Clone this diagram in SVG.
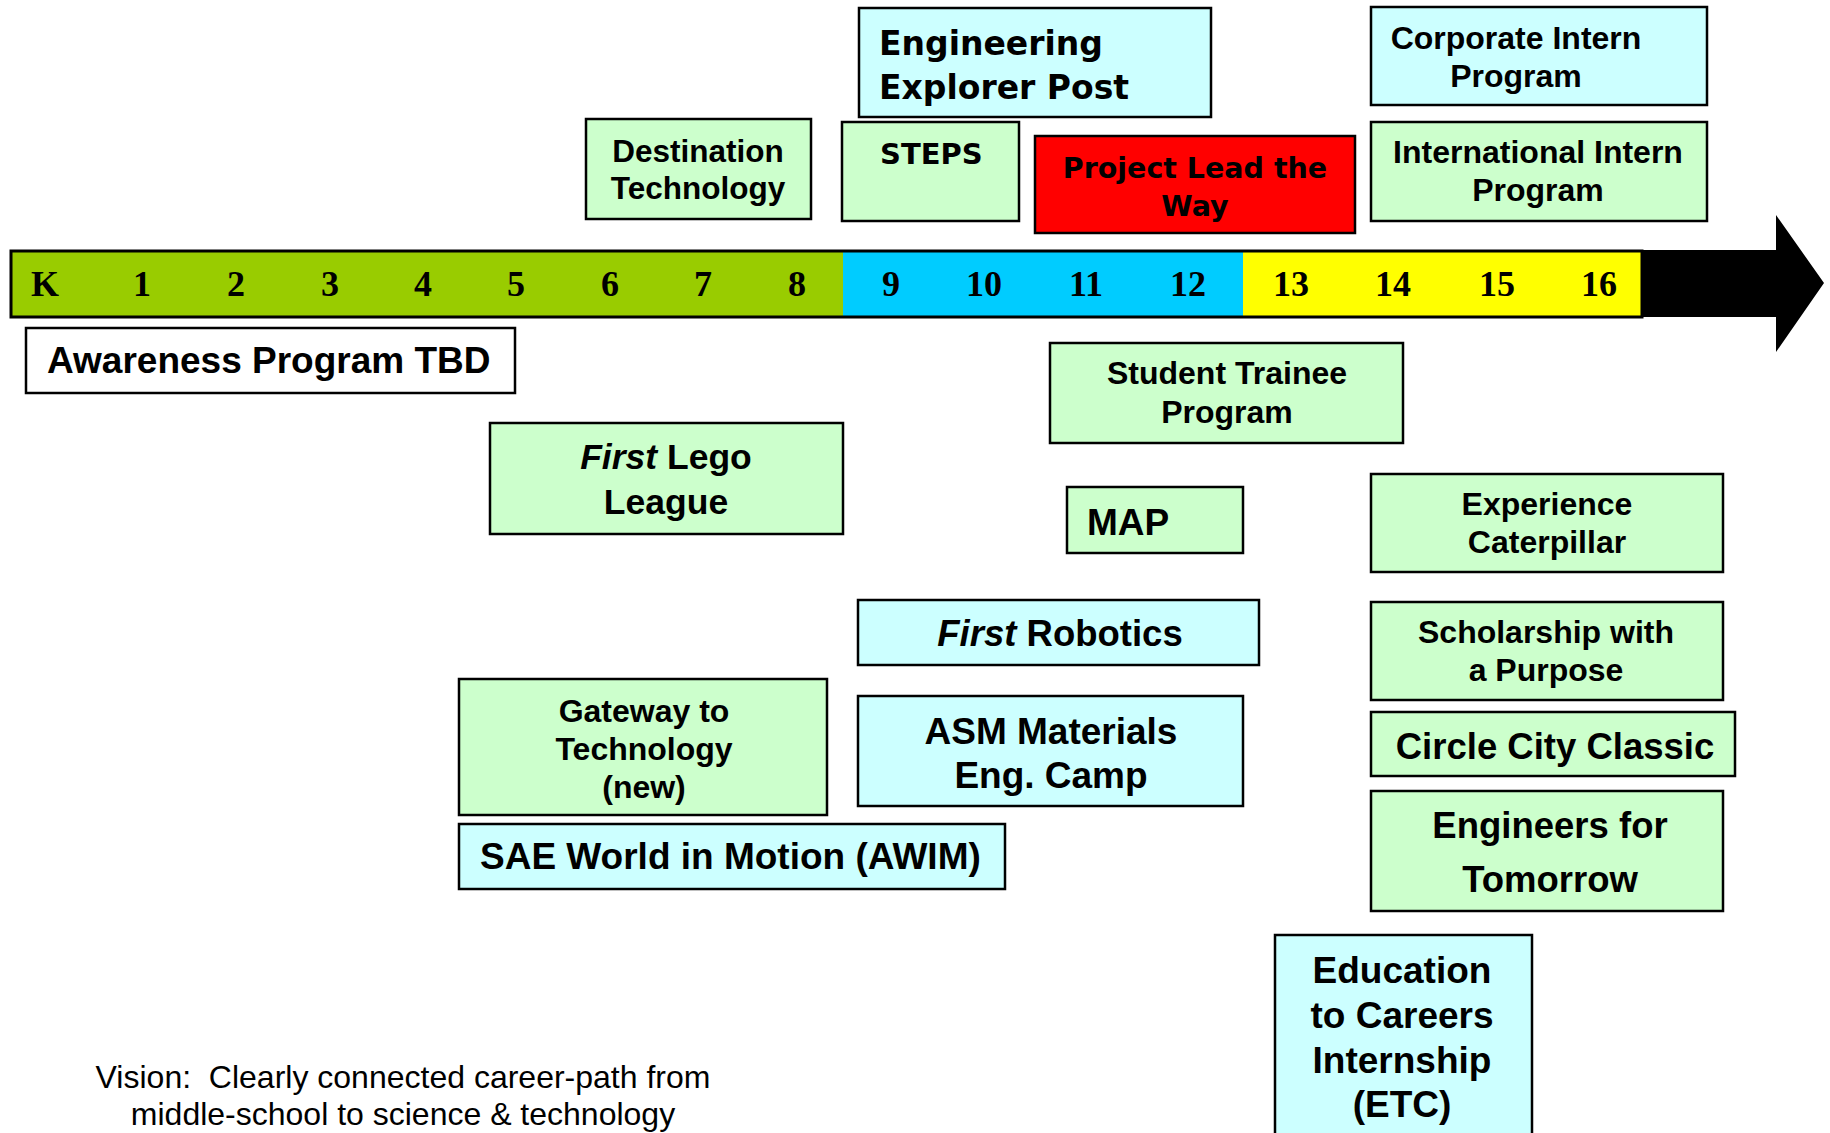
<svg xmlns="http://www.w3.org/2000/svg" width="1830" height="1133" viewBox="0 0 1830 1133">
<style>
.box{stroke:#000;stroke-width:2.5}
.g{fill:#CCFFCC}
.c{fill:#CCFFFF}
.r{fill:#FF0000}
.w{fill:#FFFFFF}
.t{font-family:"Liberation Sans",Arial,sans-serif;font-weight:bold;fill:#000}
.v{font-family:"DejaVu Sans",Verdana,sans-serif;font-weight:bold;fill:#000}
.m{text-anchor:middle}
.n{font-family:"Liberation Serif","Times New Roman",serif;font-weight:bold;font-size:36px;text-anchor:middle;fill:#000}
.vision{font-family:"Liberation Sans",Arial,sans-serif;font-size:32px;fill:#000;text-anchor:middle;white-space:pre}
</style>
<rect width="1830" height="1133" fill="#FFFFFF"/>

<g id="timeline">
  <polygon points="1630,250 1776,250 1776,215 1824,283 1776,352 1776,317 1630,317" fill="#000"/>
  <rect x="11" y="251" width="832" height="66" fill="#99CC00"/>
  <rect x="843" y="251" width="400" height="66" fill="#00CCFF"/>
  <rect x="1243" y="251" width="399" height="66" fill="#FFFF00"/>
  <rect x="11" y="251" width="1631" height="66" fill="none" stroke="#000" stroke-width="3"/>
  <text class="n" x="45" y="296">K</text>
  <text class="n" x="142" y="296">1</text>
  <text class="n" x="236" y="296">2</text>
  <text class="n" x="330" y="296">3</text>
  <text class="n" x="423" y="296">4</text>
  <text class="n" x="516" y="296">5</text>
  <text class="n" x="610" y="296">6</text>
  <text class="n" x="703" y="296">7</text>
  <text class="n" x="797" y="296">8</text>
  <text class="n" x="891" y="296">9</text>
  <text class="n" x="984" y="296">10</text>
  <text class="n" x="1086" y="296">11</text>
  <text class="n" x="1188" y="296">12</text>
  <text class="n" x="1291" y="296">13</text>
  <text class="n" x="1393" y="296">14</text>
  <text class="n" x="1497" y="296">15</text>
  <text class="n" x="1599" y="296">16</text>
</g>

<g id="connectors"></g>

<g id="engineering-explorer-post">
  <rect class="box c" x="859" y="8" width="352" height="109"/>
  <text class="v" x="879" y="55" font-size="33">Engineering</text>
  <text class="v" x="879" y="99" font-size="33">Explorer Post</text>
</g>

<g id="corporate-intern">
  <rect class="box c" x="1371" y="7" width="336" height="98"/>
  <text class="t m" x="1516" y="49" font-size="32">Corporate Intern</text>
  <text class="t m" x="1516" y="87" font-size="32">Program</text>
</g>

<g id="destination-technology">
  <rect class="box g" x="586" y="119" width="225" height="100"/>
  <text class="t m" x="698" y="162" font-size="31.5">Destination</text>
  <text class="t m" x="698" y="199" font-size="31.5">Technology</text>
</g>

<g id="steps">
  <rect class="box g" x="842" y="122" width="177" height="99"/>
  <text class="v" x="880" y="164" font-size="29">STEPS</text>
</g>

<g id="project-lead-the-way">
  <rect class="box r" x="1035" y="136" width="320" height="97"/>
  <text class="v m" x="1195" y="178" font-size="28.5">Project Lead the</text>
  <text class="v m" x="1195" y="216" font-size="28.5">Way</text>
</g>

<g id="international-intern">
  <rect class="box g" x="1371" y="122" width="336" height="99"/>
  <text class="t m" x="1538" y="163" font-size="32">International Intern</text>
  <text class="t m" x="1538" y="201" font-size="32">Program</text>
</g>

<g id="awareness-program">
  <rect class="box w" x="26" y="328" width="489" height="65"/>
  <text class="t" x="47" y="373" font-size="37">Awareness Program TBD</text>
</g>

<g id="student-trainee">
  <rect class="box g" x="1050" y="343" width="353" height="100"/>
  <text class="t m" x="1227" y="384" font-size="32">Student Trainee</text>
  <text class="t m" x="1227" y="423" font-size="32">Program</text>
</g>

<g id="first-lego-league">
  <rect class="box g" x="490" y="423" width="353" height="111"/>
  <text class="t m" x="666" y="469" font-size="35.5"><tspan font-style="italic">First</tspan> Lego</text>
  <text class="t m" x="666" y="514" font-size="35.5">League</text>
</g>

<g id="map">
  <rect class="box g" x="1067" y="487" width="176" height="66"/>
  <text class="t" x="1087" y="535" font-size="37">MAP</text>
</g>

<g id="experience-caterpillar">
  <rect class="box g" x="1371" y="474" width="352" height="98"/>
  <text class="t m" x="1547" y="515" font-size="32">Experience</text>
  <text class="t m" x="1547" y="553" font-size="32">Caterpillar</text>
</g>

<g id="first-robotics">
  <rect class="box c" x="858" y="600" width="401" height="65"/>
  <text class="t m" x="1060" y="646" font-size="36.5"><tspan font-style="italic">First</tspan> Robotics</text>
</g>

<g id="scholarship">
  <rect class="box g" x="1371" y="602" width="352" height="98"/>
  <text class="t m" x="1546" y="643" font-size="32">Scholarship with</text>
  <text class="t m" x="1546" y="681" font-size="32">a Purpose</text>
</g>

<g id="gateway-to-technology">
  <rect class="box g" x="459" y="679" width="368" height="136"/>
  <text class="t m" x="644" y="722" font-size="32">Gateway to</text>
  <text class="t m" x="644" y="760" font-size="32">Technology</text>
  <text class="t m" x="644" y="798" font-size="32">(new)</text>
</g>

<g id="asm-materials">
  <rect class="box c" x="858" y="696" width="385" height="110"/>
  <text class="t m" x="1051" y="744" font-size="37">ASM Materials</text>
  <text class="t m" x="1051" y="788" font-size="37">Eng. Camp</text>
</g>

<g id="circle-city-classic">
  <rect class="box g" x="1371" y="712" width="364" height="64"/>
  <text class="t m" x="1555" y="759" font-size="36.5">Circle City Classic</text>
</g>

<g id="engineers-for-tomorrow">
  <rect class="box g" x="1371" y="791" width="352" height="120"/>
  <text class="t m" x="1550" y="838" font-size="36.5">Engineers for</text>
  <text class="t m" x="1550" y="892" font-size="36.5">Tomorrow</text>
</g>

<g id="sae-world-in-motion">
  <rect class="box c" x="459" y="824" width="546" height="65"/>
  <text class="t" x="480" y="869" font-size="37">SAE World in Motion (AWIM)</text>
</g>

<g id="etc-internship">
  <rect class="box c" x="1275" y="935" width="257" height="210"/>
  <text class="t m" x="1402" y="983" font-size="37">Education</text>
  <text class="t m" x="1402" y="1028" font-size="37">to Careers</text>
  <text class="t m" x="1402" y="1073" font-size="37">Internship</text>
  <text class="t m" x="1402" y="1117" font-size="37">(ETC)</text>
</g>

<g id="vision">
  <text class="vision" x="403" y="1088" xml:space="preserve">Vision:  Clearly connected career-path from</text>
  <text class="vision" x="403" y="1125">middle-school to science &amp; technology</text>
</g>
</svg>
